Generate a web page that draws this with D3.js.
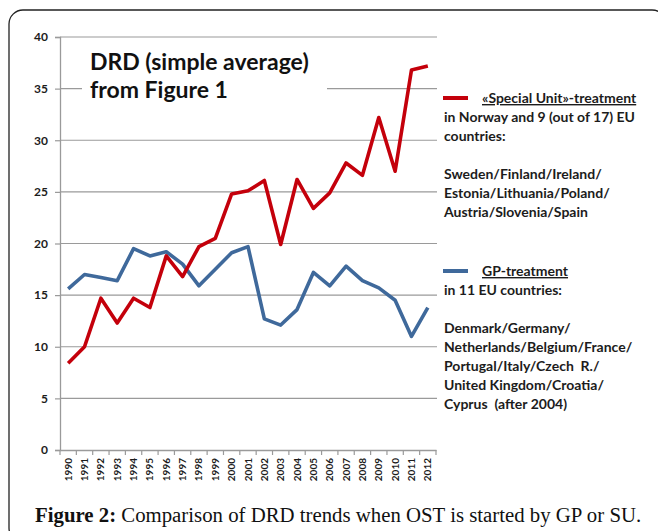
<!DOCTYPE html>
<html>
<head>
<meta charset="utf-8">
<script src="https://cdn.jsdelivr.net/npm/d3@7"></script>
<style>
  body { margin: 0; background: #fff; }
  svg { display: block; }
</style>
</head>
<body>
<div id="display"><svg width="658" height="531"></svg></div>
<script>
// values (DRD, simple average)
var years = d3.range(1990, 2013).map(String);
var suValues = [8.4, 10.0, 14.7, 12.3, 14.7, 13.8, 18.8, 16.8, 19.7, 20.5, 24.8, 25.1,
                26.1, 19.9, 26.2, 23.4, 24.9, 27.8, 26.6, 32.2, 27.0, 36.8, 37.2];
var gpValues = [15.6, 17.0, 16.7, 16.4, 19.5, 18.8, 19.2, 18.0, 15.9, 17.5, 19.1, 19.7,
                12.7, 12.1, 13.6, 17.2, 15.9, 17.8, 16.4, 15.7, 14.5, 11.0, 13.8];
var yTicks = [0, 5, 10, 15, 20, 25, 30, 35, 40];

var titleLines = ["DRD (simple average)", "from Figure 1"];
var suLegend = ["in Norway and 9 (out of 17) EU", "countries:", "",
                "Sweden/Finland/Ireland/", "Estonia/Lithuania/Poland/", "Austria/Slovenia/Spain"];
var gpLegend = ["in 11 EU countries:", "",
                "Denmark/Germany/", "Netherlands/Belgium/France/", "Portugal/Italy/Czech  R./",
                "United Kingdom/Croatia/", "Cyprus  (after 2004)"];

var RED = "#c4000b", BLUE = "#3f699b", GRID = "#9a9a9a", TXT = "#1c1c1c";
var sans = "Lato, 'Open Sans', sans-serif";

var svg = d3.select("#display svg");

// figure frame
svg.append("rect")
    .attr("x", 9).attr("y", 10)
    .attr("width", 657).attr("height", 532)
    .attr("rx", 14)
    .style("fill", "none").style("stroke", "#222").style("stroke-width", 1.3);

var pLeft = 60, pRight = 436, pTop = 37, pBottom = 450;
var x = d3.scaleBand().domain(years).range([pLeft, pRight]).padding(0);
var y = d3.scaleLinear().domain([0, 40]).range([pBottom, pTop]);

// gridlines
svg.append("g").selectAll("line")
    .data(yTicks.filter(function (d) { return d > 0; }))
    .join("line")
    .attr("x1", pLeft).attr("x2", pRight + 1)
    .attr("y1", function (d) { return y(d); })
    .attr("y2", function (d) { return y(d); })
    .style("stroke", GRID).style("stroke-width", 1.2);

// y axis
var yAxis = svg.append("g")
    .attr("transform", "translate(" + pLeft + ",0)")
    .call(d3.axisLeft(y).tickValues(yTicks).tickSize(5).tickPadding(7));
yAxis.select(".domain").style("stroke", GRID).style("stroke-width", 1.3);
yAxis.selectAll(".tick line").style("stroke", GRID).style("stroke-width", 1.2);
yAxis.selectAll("text")
    .style("font-family", sans).style("font-weight", "bold")
    .style("font-size", "12px").style("fill", TXT);

// x axis: ticks at band edges, labels rotated
var xAxis = svg.append("g")
    .attr("transform", "translate(0," + pBottom + ")")
    .call(d3.axisBottom(x).tickSize(0).tickPadding(0));
xAxis.select(".domain").style("stroke", GRID).style("stroke-width", 1.3);
xAxis.selectAll("text")
    .attr("transform", "rotate(-90)")
    .attr("x", -8).attr("y", 0).attr("dy", "0.35em")
    .style("text-anchor", "end")
    .style("font-family", sans).style("font-weight", "bold")
    .style("font-size", "10px").style("fill", TXT);
svg.append("g").selectAll("line")
    .data(years.concat(["end"]))
    .join("line")
    .attr("x1", function (d, i) { return pLeft + i * x.bandwidth(); })
    .attr("x2", function (d, i) { return pLeft + i * x.bandwidth(); })
    .attr("y1", pBottom).attr("y2", pBottom + 5)
    .style("stroke", GRID).style("stroke-width", 1.2);

// series lines
var line = d3.line()
    .x(function (d, i) { return x(years[i]) + x.bandwidth() / 2; })
    .y(function (d) { return y(d); });

svg.append("path").datum(gpValues)
    .attr("d", line)
    .style("fill", "none").style("stroke", BLUE).style("stroke-width", 3.6)
    .style("stroke-linejoin", "round");
svg.append("path").datum(suValues)
    .attr("d", line)
    .style("fill", "none").style("stroke", RED).style("stroke-width", 3.6)
    .style("stroke-linejoin", "round");

// title box inside the plot
svg.append("rect")
    .attr("x", 82).attr("y", 44).attr("width", 245).attr("height", 66)
    .style("fill", "#fff");
svg.append("g").selectAll("text")
    .data(titleLines)
    .join("text")
    .attr("x", 90)
    .attr("y", function (d, i) { return 70 + i * 28; })
    .text(function (d) { return d; })
    .style("font-family", sans).style("font-weight", "bold")
    .style("font-size", "23px").style("fill", "#111");

// legends
function legend(ly, color, label, lines) {
    var g = svg.append("g");
    g.append("line")
        .attr("x1", 443).attr("x2", 468)
        .attr("y1", ly).attr("y2", ly)
        .style("stroke", color).style("stroke-width", 4);
    g.append("text")
        .attr("x", 482).attr("y", ly + 5)
        .text(label)
        .style("font-family", sans).style("font-weight", "bold")
        .style("font-size", "14px").style("fill", TXT)
        .style("text-decoration", "underline");
    g.selectAll("text.row")
        .data(lines)
        .join("text")
        .attr("class", "row")
        .attr("x", 444)
        .attr("y", function (d, i) { return ly + 24 + i * 19; })
        .text(function (d) { return d; })
        .style("font-family", sans).style("font-weight", "bold")
        .style("font-size", "14px").style("fill", TXT)
        .style("white-space", "pre");
}
legend(98, RED, "\u00abSpecial Unit\u00bb-treatment", suLegend);
legend(271, BLUE, "GP-treatment", gpLegend);

// caption
var cap = svg.append("text")
    .attr("x", 35).attr("y", 522)
    .style("font-family", "'Liberation Serif', 'DejaVu Serif', serif")
    .style("font-size", "20.8px").style("fill", "#111");
cap.append("tspan").style("font-weight", "bold").text("Figure 2:");
cap.append("tspan").text(" Comparison of DRD trends when OST is started by GP or SU.");
</script>
</body>
</html>
